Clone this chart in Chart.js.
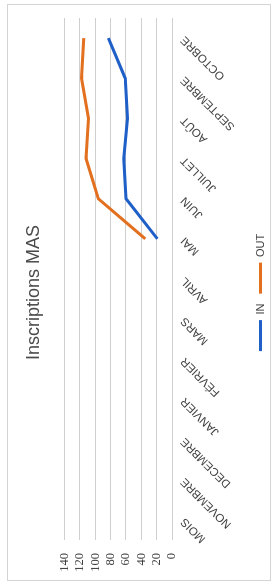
<!DOCTYPE html>
<html><head><meta charset="utf-8">
<script src="https://cdn.jsdelivr.net/npm/chart.js@4/dist/chart.umd.min.js"></script>
<style>
html,body{margin:0;padding:0;background:#fff;width:278px;height:585px;overflow:hidden;}
#rot{position:absolute;left:0;top:0;width:585px;height:278px;transform-origin:0 0;transform:translateY(585px) rotate(-90deg);}
#frame{position:absolute;left:4px;top:7px;width:577px;height:264px;border:1px solid #d4d4d4;box-sizing:border-box;}
canvas{position:absolute;left:0;top:0;}
</style></head>
<body>
<div id="rot"><div id="frame"></div><canvas id="c" width="585" height="278"></canvas></div>
<script>
const months = ['MOIS','NOVEMBRE','DECEMBRE','JANVIER','FÉVRIER','MARS','AVRIL','MAI','JUIN','JUILLET','AOÛT','SEPTEMBRE','OCTOBRE'];
const inValues  = [null,null,null,null,null,null,null,19,60,63,58,61,83];
const outValues = [null,null,null,null,null,null,null,35,96,112,109,118,115];
const yTicks = [0,20,40,60,80,100,120,140];
const titleText = 'Inscriptions MAS';

new Chart(document.getElementById('c'), {
  type: 'line',
  data: {
    labels: months,
    datasets: [
      {label:'IN', data:inValues, borderColor:'#1f5fc8', backgroundColor:'#1f5fc8', borderWidth:3, pointRadius:0, tension:0, spanGaps:false},
      {label:'OUT', data:outValues, borderColor:'#e2701f', backgroundColor:'#e2701f', borderWidth:3, pointRadius:0, tension:0, spanGaps:false}
    ]
  },
  options: {
    responsive:false, animation:false,
    layout:{padding:{left:0,right:0,top:0,bottom:2}},
    plugins:{
      title:{display:true,text:titleText,color:'#4a4a4a',font:{family:'Liberation Sans',size:18,weight:'normal'},padding:{top:23,bottom:20}},
      legend:{position:'bottom',labels:{color:'#404040',font:{family:'Liberation Sans',size:11},boxWidth:31,boxHeight:3,padding:10,
        generateLabels:(chart)=>Chart.defaults.plugins.legend.labels.generateLabels(chart).map(l=>Object.assign(l,{lineWidth:0}))}},
      tooltip:{enabled:false}
    },
    scales:{
      x:{offset:true,grid:{display:false,drawTicks:false},border:{display:false},
         ticks:{autoSkip:false,minRotation:45,maxRotation:45,padding:6,color:'#404040',font:{family:'Liberation Sans',size:11.5}},
         afterFit:(s)=>{s.height=73;}},
      y:{min:0,max:140,afterBuildTicks:(s)=>{s.ticks=yTicks.map(v=>({value:v}));},
         grid:{color:'#cfcfcf',drawTicks:false},border:{display:false},
         ticks:{autoSkip:false,padding:13,color:'#404040',font:{family:'Liberation Serif',size:12.5}},
         afterFit:(s)=>{s.width=45;}},
      yRight:{position:'right',min:0,max:140,grid:{display:false,drawTicks:false},border:{display:false},
         ticks:{display:false},afterFit:(s)=>{s.width=18;}}
    }
  }
});
</script>
</body></html>
